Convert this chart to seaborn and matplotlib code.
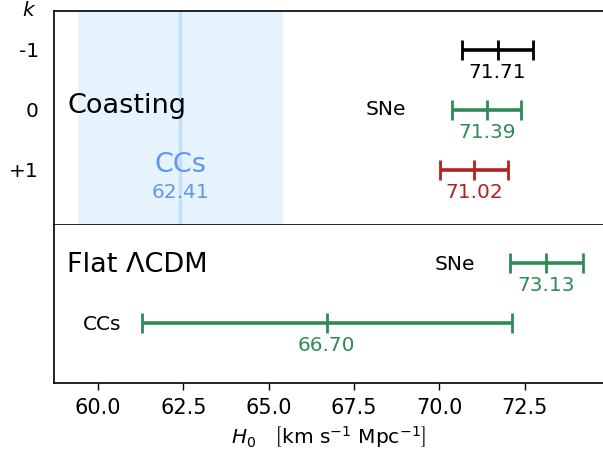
import matplotlib
matplotlib.use("Agg")
import matplotlib.pyplot as plt
import seaborn as sns
import numpy as np

# ---- data ----
k_labels = ["-1", "0", "+1"]
k_values = [-1, 0, 1]
coast_sne_h0 = [71.71, 71.39, 71.02]
coast_sne_err = [1.05, 1.01, 1.01]
coast_colors = ["black", "seagreen", "firebrick"]
coast_cc_h0 = 62.41
coast_cc_err = 3.0

flat_names = ["SNe", "CCs"]
flat_h0 = [73.13, 66.70]
flat_err = [1.07, 5.42]
flat_color = "seagreen"

sns.set_theme(style="ticks")
plt.rcParams['font.family'] = ['DejaVu Sans']
plt.rcParams['text.color'] = 'black'
plt.rcParams['xtick.color'] = 'black'
plt.rcParams['ytick.color'] = 'black'
plt.rcParams['axes.labelcolor'] = 'black'

fig = plt.figure(figsize=(6.03, 4.55), dpi=100)
L = 54 / 603
R = 1.0
ax1 = fig.add_axes([L, 1 - 225 / 455, R - L, (225 - 11) / 455])
ax2 = fig.add_axes([L, 1 - 383 / 455, R - L, (383 - 225) / 455], sharex=ax1)

xlim = (58.71, 74.8)
fs = 14.5
big = 19.5

# ---- top panel: coasting ----
ax1.axvspan(coast_cc_h0 - coast_cc_err, coast_cc_h0 + coast_cc_err,
            color="#e5f3fd", lw=0, zorder=0)
ax1.axvline(coast_cc_h0, color="#bfe1f9", lw=2.5, zorder=1)
for k, h, e, c in zip(k_values, coast_sne_h0, coast_sne_err, coast_colors):
    ax1.errorbar(h, k, xerr=e, fmt='|', color=c, ms=14, mew=2,
                 elinewidth=2.6, capsize=7, capthick=2)
    ax1.text(h, k + 0.37, f"{h:.2f}", color=c, ha='center', va='center', fontsize=fs)
ax1.text(coast_cc_h0, 0.92, "CCs", color="cornflowerblue", ha='center', va='center', fontsize=big)
ax1.text(coast_cc_h0, 1.38, f"{coast_cc_h0:.2f}", color="cornflowerblue", ha='center', va='center', fontsize=fs)
ax1.text(68.43, 0.0, "SNe", ha='center', va='center', fontsize=fs, color='black')
ax1.text(59.1, -0.07, "Coasting", ha='left', va='center', fontsize=big, color='black')
ax1.set_ylim(1.917, -1.65)
ax1.set_yticks(k_values)
ax1.set_yticklabels(k_labels, fontsize=fs)
ax1.tick_params(axis='y', length=0, pad=11)
ax1.tick_params(axis='x', bottom=False, labelbottom=False)
ax1.text(-0.045, 1.0, "$k$", transform=ax1.transAxes, ha='center', va='center', fontsize=fs)
ax1.spines['right'].set_visible(False)

# ---- bottom panel: flat LCDM ----
ys = [0, 1]
label_x = [70.47, 60.12]
for y, name, h, e, lx in zip(ys, flat_names, flat_h0, flat_err, label_x):
    ax2.errorbar(h, y, xerr=e, fmt='|', color=flat_color, ms=14, mew=2,
                 elinewidth=2.6, capsize=7, capthick=2)
    ax2.text(h, y + 0.38, f"{h:.2f}", color=flat_color, ha='center', va='center', fontsize=fs)
    ax2.text(lx, y + 0.03, name, ha='center', va='center', fontsize=fs, color='black')
ax2.text(59.1, 0.03, "Flat ΛCDM", ha='left', va='center', fontsize=big, color='black')
ax2.set_ylim(2.0, -0.633)
ax2.set_yticks([])
ax2.set_xlim(*xlim)
ax2.set_xticks([60.0, 62.5, 65.0, 67.5, 70.0, 72.5])
ax2.set_xticklabels(["60.0", "62.5", "65.0", "67.5", "70.0", "72.5"], fontsize=15)
ax2.tick_params(axis='x', length=5, width=1, pad=6)
ax2.set_xlabel("$H_0$   $\\left[\\mathrm{km\\ s^{-1}\\ Mpc^{-1}}\\right]$", fontsize=fs, labelpad=4)
ax2.spines['right'].set_visible(False)
ax2.spines['top'].set_visible(False)

for ax in (ax1, ax2):
    for s in ax.spines.values():
        s.set_color('black')
        s.set_linewidth(1.2)

fig.savefig("out.png", dpi=100)
